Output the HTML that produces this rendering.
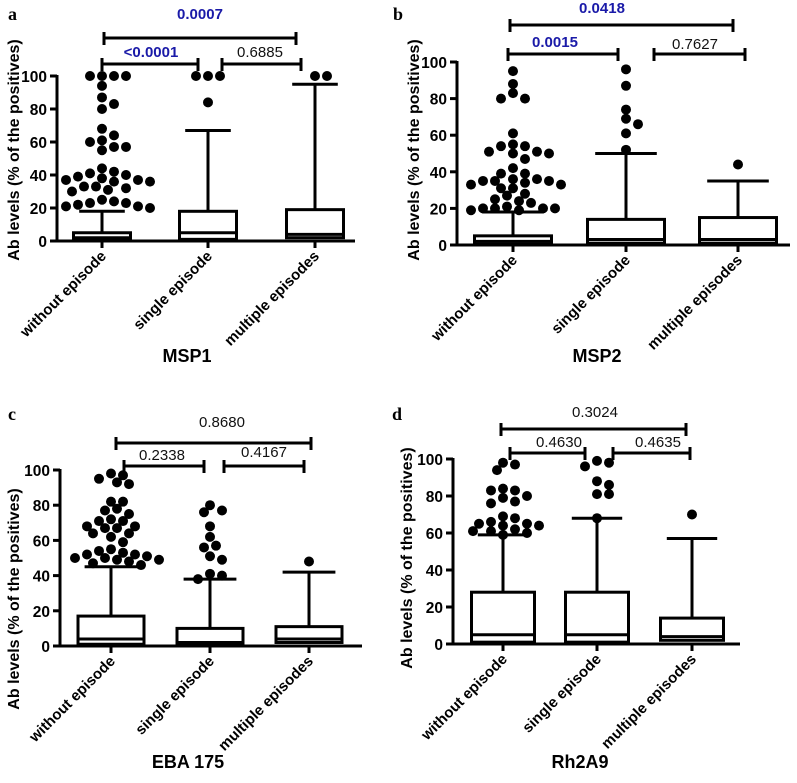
<!DOCTYPE html>
<html><head><meta charset="utf-8">
<style>
body{margin:0;background:#fff}
svg{display:block;font-family:"Liberation Sans",Arial,sans-serif}
</style></head>
<body>
<svg id="chart" width="797" height="783" viewBox="0 0 797 783"></svg>
<script>
const categories = ["without episode","single episode","multiple episodes"];
const panelNames = ["MSP1","MSP2","EBA 175","Rh2A9"];
const panelLetters = ["a","b","c","d"];
const yTicks = [0,20,40,60,80,100];
// box stats per panel: [q1, median, q3, whiskerHigh] per category
const statsA = [[0.5,2,5,18],[1,5,18,67],[2,4,19,95]];
const statsB = [[0.5,2,5,18],[1,3,14,50],[1,3,15,35]];
const statsC = [[1,4,17,45],[1,2,10,38],[2,4,11,42]];
const statsD = [[1,5,28,59],[1,5,28,68],[2,4,14,57]];
const outA = [[100,100,100,100,94,87,83,80,68,64,60,57,55,57,61,44,41,39,40,42,37,36,33,32,31,33,30,37,36,38,25,24,23,21,20,21,22,23],[100,100,100,84],[100,100]];
const outB = [[95,88,83,80,80,61,55,54,54,51,51,50,50,47,42,39,39,36,35,35,34,33,33,35,36,31,31,28,27,25,24,23,21,20,20,19,19,20,20],[96,87,74,69,66,61,52],[44]];
const outC = [[97,98,95,93,92,82,82,78,77,75,72,71,71,68,67,67,68,64,64,62,59,55,54,53,52,52,51,50,50,49,49,48,47,46],[77,76,80,68,62,57,56,51,49,40,41,38],[48]];
const outD = [[98,97,94,84,83,83,80,79,77,76,69,68,66,65,65,64,64,62,61,60,59,61],[99,98,96,88,86,81,81,68],[70]];
const pvalsA = ["0.0007","<0.0001","0.6885"];
const pvalsB = ["0.0418","0.0015","0.7627"];
const pvalsC = ["0.8680","0.2338","0.4167"];
const pvalsD = ["0.3024","0.4630","0.4635"];
const sigA = [true,true,false], sigB=[true,true,false], sigC=[false,false,false], sigD=[false,false,false];

const layouts = [
 {ax:57,axEnd:355,y0:241,y100:76,cx:[102,208,315],bw:57,letter:[8,20],title:[187,362],ytitle:[19,150],
  br:[{y:38,x1:104,x2:296,ly:19,lx:200},{y:64,x1:102,x2:198,ly:57,lx:151},{y:64,x1:222,x2:301,ly:57,lx:260}]},
 {ax:457,axEnd:790,y0:245,y100:62,cx:[513,626,738],bw:77,letter:[393,20],title:[597,362],ytitle:[419,150],
  br:[{y:25,x1:510,x2:733,ly:13,lx:602},{y:54,x1:508,x2:618,ly:47,lx:555},{y:54,x1:654,x2:745,ly:49,lx:695}]},
 {ax:60,axEnd:362,y0:646,y100:470,cx:[111,210,309],bw:66,letter:[8,420],title:[188,768],ytitle:[19,599],
  br:[{y:443,x1:116,x2:311,ly:427,lx:222},{y:466,x1:124,x2:204,ly:460,lx:162},{y:466,x1:224,x2:304,ly:457,lx:264}]},
 {ax:453,axEnd:740,y0:644,y100:459,cx:[503,597,692],bw:63,letter:[392,420],title:[580,768],ytitle:[412,558],
  br:[{y:429,x1:501,x2:686,ly:417,lx:595},{y:453,x1:510,x2:585,ly:447,lx:559},{y:453,x1:613,x2:690,ly:447,lx:658}]}
];
const allStats=[statsA,statsB,statsC,statsD], allOut=[outA,outB,outC,outD], allP=[pvalsA,pvalsB,pvalsC,pvalsD], allSig=[sigA,sigB,sigC,sigD];

const svg=document.getElementById('chart');
const NS="http://www.w3.org/2000/svg";
function mk(tag,attrs,parent){const e=document.createElementNS(NS,tag);for(const k in attrs)e.setAttribute(k,attrs[k]);(parent||svg).appendChild(e);return e;}

layouts.forEach((L,p)=>{
  const g=mk('g',{});
  
  
  const y=v=>L.y0+(L.y100-L.y0)*v/100;
  const lt=mk('text',{x:L.letter[0],y:L.letter[1],'font-family':'"Liberation Serif",serif','font-weight':'bold','font-size':18},g);
  lt.textContent=panelLetters[p];
  
  
  const ya=mk('line',{x1:L.ax,y1:y(100)-1,x2:L.ax,y2:L.y0+1.5,stroke:'#000','stroke-width':3},g);
  
  
  const xa=mk('line',{x1:L.ax-1.5,y1:L.y0,x2:L.axEnd,y2:L.y0,stroke:'#000','stroke-width':3},g);
  
  
  yTicks.forEach(t=>{
    mk('line',{x1:L.ax-7,y1:y(t),x2:L.ax,y2:y(t),stroke:'#000','stroke-width':3},g);
    const tx=mk('text',{x:L.ax-10,y:y(t)+6,'text-anchor':'end','font-weight':'bold','font-size':15.5},g);
    tx.textContent=t;
    
    
  });
  const yt=mk('text',{x:0,y:0,'text-anchor':'middle','font-weight':'bold','font-size':16,transform:`translate(${L.ytitle[0]},${L.ytitle[1]}) rotate(-90)`},g);
  yt.textContent='Ab levels (% of the positives)';
  
  
  const tt=mk('text',{x:L.title[0],y:L.title[1],'text-anchor':'middle','font-weight':'bold','font-size':18},g);
  tt.textContent=panelNames[p];
  
  
  categories.forEach((c,i)=>{
    const cx=L.cx[i];
    mk('line',{x1:cx,y1:L.y0,x2:cx,y2:L.y0+7,stroke:'#000','stroke-width':3},g);
    const cl=mk('text',{x:0,y:0,'text-anchor':'end','font-weight':'bold','font-size':15,transform:`translate(${cx+5},${L.y0+16}) rotate(-45)`},g);
    cl.textContent=c;
    
    
    const s=allStats[p][i];
    const half=L.bw/2;
    const wl=mk('line',{x1:cx,y1:y(s[2]),x2:cx,y2:y(s[3]),stroke:'#000','stroke-width':3},g);
    
    
    const cap=mk('line',{x1:cx-half*0.8,y1:y(s[3]),x2:cx+half*0.8,y2:y(s[3]),stroke:'#000','stroke-width':3},g);
    
    
    const bx=mk('rect',{x:cx-half,y:y(s[2]),width:L.bw,height:y(s[0])-y(s[2]),fill:'#fff',stroke:'#000','stroke-width':3},g);
    
    
    const md=mk('line',{x1:cx-half,y1:y(s[1]),x2:cx+half,y2:y(s[1]),stroke:'#000','stroke-width':3},g);
    
    
    const pts=allOut[p][i].slice().sort((a,b)=>b-a);
    const placed=[];const r=5;
    pts.forEach(v=>{
      const py=y(v);
      for(let k=0;k<40;k++){
        const off=(k%2?1:-1)*Math.ceil(k/2)*(r+1);
        const px=cx+off;
        if(placed.every(q=>Math.hypot(q[0]-px,q[1]-py)>=2*r-1)){placed.push([px,py]);break;}
      }
    });
    placed.forEach(q=>{
      const d=mk('circle',{cx:q[0],cy:q[1],r:r,fill:'#000'},g);
      
      
    });
  });
  L.br.forEach((b,k)=>{
    const bg=mk('g',{},g);
    
    
    mk('line',{x1:b.x1,y1:b.y,x2:b.x2,y2:b.y,stroke:'#000','stroke-width':3},bg);
    mk('line',{x1:b.x1,y1:b.y-6,x2:b.x1,y2:b.y+7,stroke:'#000','stroke-width':3},bg);
    mk('line',{x1:b.x2,y1:b.y-6,x2:b.x2,y2:b.y+7,stroke:'#000','stroke-width':3},bg);
    const sig=allSig[p][k];
    const pt=mk('text',{x:b.lx,y:b.ly,'text-anchor':'middle','font-size':15,'font-weight':sig?'bold':'normal',fill:sig?'#1a1aa8':'#111'},bg);
    pt.textContent=allP[p][k];
    
    
  });
});
</script>
</body></html>
